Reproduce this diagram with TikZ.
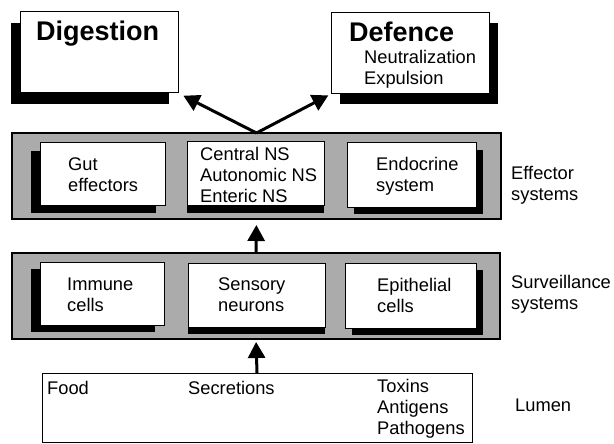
\documentclass[tikz,border=0pt]{standalone}
\usepackage{fontspec}
\setmainfont{Liberation Sans}
\usetikzlibrary{arrows.meta,shadows,calc}
\begin{document}
\begin{tikzpicture}[x=1pt,y=-1pt,
  band/.style={draw, line width=2.2pt, fill=black!33, anchor=north west, outer sep=0pt, inner sep=0pt},
  box/.style={draw, line width=1pt, fill=white, anchor=north west, outer sep=0pt, inner sep=0pt},
  shad/.style 2 args={drop shadow={shadow xshift=#1pt, shadow yshift=#2pt, fill=black, opacity=1}},
  txt/.style={anchor=west, align=left, inner sep=0pt, font=\fontsize{18.3}{21}\selectfont},
  big/.style={anchor=west, inner sep=0pt, font=\bfseries\fontsize{27}{30}\selectfont},
  arr/.style={line width=3pt, -{Triangle[length=16pt,width=17pt]}}
]
\useasboundingbox (0,0) rectangle (614,444);

% top outcome boxes
\node[box, shad={-9}{-11}, minimum width=158pt, minimum height=81pt] (dig) at (20,12) {};
\node[big] (digt) at (36,34) {Digestion};
\node[box, shad={9}{-10}, minimum width=158pt, minimum height=81pt] (def) at (331,13) {};
\node[big] (deft) at (349,32) {Defence};
\node[txt] (defi) at (364,69) {Neutralization\\Expulsion};

% effector band
\node[band, minimum width=489pt, minimum height=86pt] (eff) at (12,133) {};
\node[box, shad={-9}{-8}, minimum width=125pt, minimum height=62pt] (gut) at (40,143) {};
\node[txt] (gutt) at (68,175) {Gut\\effectors};
\node[box, shad={0}{-8}, minimum width=137pt, minimum height=63pt] (cns) at (187,142) {};
\node[txt] (cnst) at (200,175) {Central NS\\Autonomic NS\\Enteric NS};
\node[box, shad={7}{-7}, minimum width=129pt, minimum height=64pt] (endo) at (347,143) {};
\node[txt] (endot) at (376,176.5) {Endocrine\\system};
\node[txt] (efflab) at (511,185.5) {Effector\\systems};

% surveillance band
\node[band, minimum width=488pt, minimum height=86pt] (surv) at (12,253) {};
\node[box, shad={-9}{-7}, minimum width=124pt, minimum height=63pt] (imm) at (40,262) {};
\node[txt] (immt) at (67,295) {Immune\\cells};
\node[box, shad={0}{-7}, minimum width=137pt, minimum height=64pt] (sens) at (188,263) {};
\node[txt] (senst) at (218,295) {Sensory\\neurons};
\node[box, shad={7}{-7}, minimum width=131pt, minimum height=65pt] (epi) at (345,263) {};
\node[txt] (epit) at (377,295) {Epithelial\\cells};
\node[txt] (survlab) at (511,294.5) {Surveillance\\systems};

% lumen
\node[box, minimum width=430pt, minimum height=69pt] (lum) at (42,373) {};
\node[txt] (food) at (47,388) {Food};
\node[txt] (secr) at (188,388) {Secretions};
\node[txt] (tox) at (377,409) {Toxins\\Antigens\\Pathogens};
\node[txt] (lumlab) at (515,405) {Lumen};

% arrows
\draw[arr, shorten >=6pt] (eff.north) -- (dig.south east);
\draw[arr, shorten >=3pt] (eff.north) -- (def.south west);
\draw[arr, shorten >=6pt] (surv.north) -- (eff.south);
\draw[arr, shorten >=3pt] (lum.north) -- (surv.south);
\end{tikzpicture}
\end{document}
